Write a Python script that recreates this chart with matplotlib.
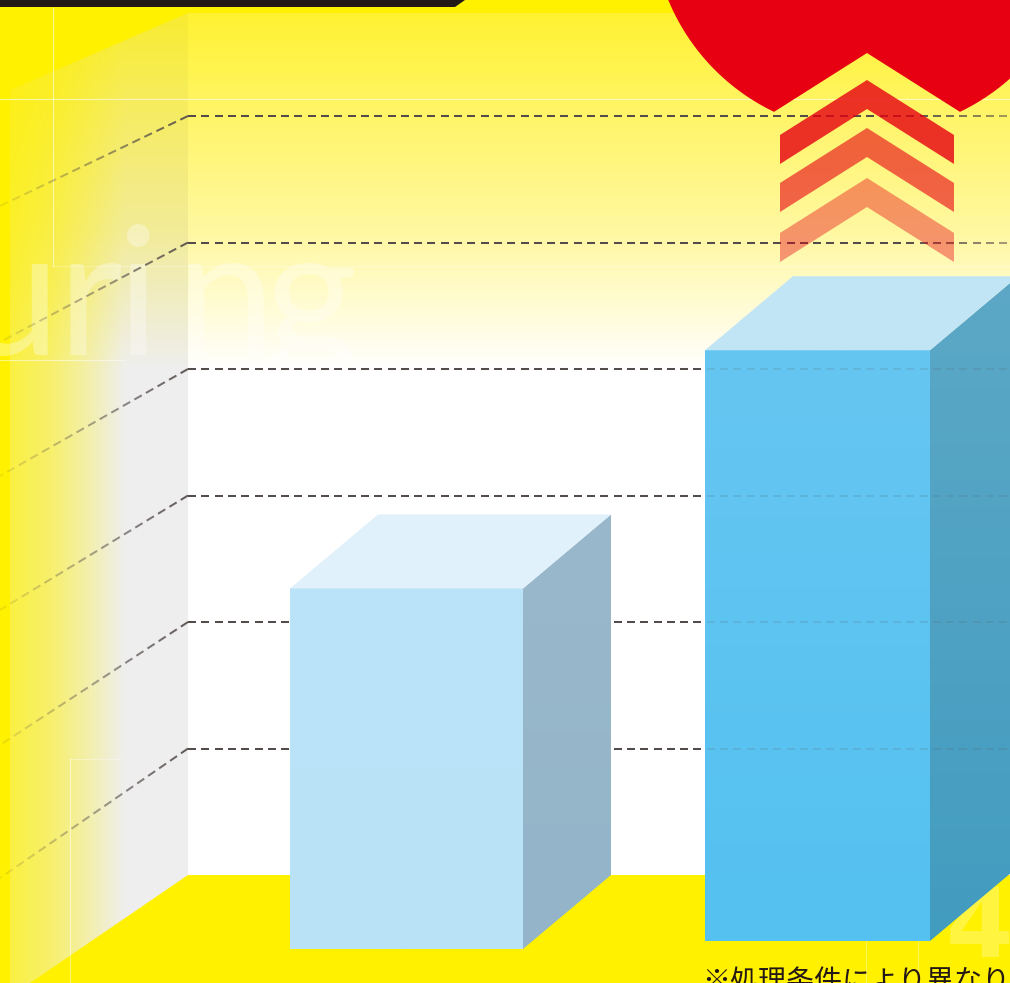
#!/usr/bin/env python3
import numpy as np
import matplotlib
matplotlib.use('Agg')
import matplotlib.pyplot as plt
import matplotlib.colors as mcolors
from matplotlib.collections import LineCollection
from matplotlib.patches import Polygon, Rectangle

# values, in grid steps above the floor
grid_levels = [1, 2, 3, 4, 5, 6]
bar_values = [2.85, 4.67]
note_text = '※処理条件により異なります'
watermark_letters = ['u', 'r', 'i', 'n', 'g']

# picture geometry (pixels)
W, H = 1010, 983
FLOOR_Y = 875
STEP = 126.5
WALL_X = 188
grid_left_y = [878, 745, 610, 476, 342, 206]
bar_left = [290, 705]
bar_right = [523, 930]
bar_base = [949, 941]
DEPTH_X, DEPTH_Y = 88, 74
watermark_x = [-40, 58, 117, 176, 265]

YELLOW = '#FFF100'
DASH = '#544C4A'


def level_y(v):
    return FLOOR_Y - STEP * v


def rgb(c):
    return np.array(mcolors.to_rgb(c))


def gradient_poly(ax, pts, c0, c1, zorder):
    # vertical gradient from c0 to c1 clipped to a polygon
    pts = np.array(pts, dtype=float)
    x0, x1 = pts[:, 0].min(), pts[:, 0].max()
    y0, y1 = pts[:, 1].min(), pts[:, 1].max()
    t = np.linspace(0, 1, 256)[:, None, None]
    img = rgb(c0)[None, None, :] * (1 - t) + rgb(c1)[None, None, :] * t
    im = ax.imshow(img, extent=[x0, x1, y1, y0], aspect='auto', zorder=zorder,
                   interpolation='bilinear')
    clip = Polygon(pts, closed=True, transform=ax.transData)
    im.set_clip_path(clip)


def dash_segments(p0, p1, period=13.3, dash=8.0):
    p0, p1 = np.array(p0, float), np.array(p1, float)
    length = np.hypot(*(p1 - p0))
    u = (p1 - p0) / length
    starts = np.arange(0, length, period)
    return [(p0 + u * s, p0 + u * min(s + dash, length)) for s in starts]


fig = plt.figure(figsize=(W / 100, H / 100), dpi=100, facecolor=YELLOW)
ax = fig.add_axes([0, 0, 1, 1])
ax.set_facecolor(YELLOW)

# back wall, vertical fade to white
ys = np.arange(13, FLOOR_Y + 109)
stop_y = [13, 116, 230, 310, 370, 875]
stop_g = [242, 245, 248, 252, 255, 255]
stop_b = [50, 105, 160, 215, 255, 255]
green = np.interp(ys, stop_y, stop_g)
blue = np.interp(ys, stop_y, stop_b)
back = np.dstack([np.full_like(green, 255.0), green, blue]).reshape(len(ys), 1, 3) / 255
back_im = ax.imshow(back, extent=[WALL_X, W, FLOOR_Y + 108, 13], aspect='auto', zorder=1)
back_im.set_clip_path(Rectangle((WALL_X, 13), W - WALL_X, FLOOR_Y - 13, transform=ax.transData))

# left wall, same fade dimmed and washed into yellow on the left
xs = np.arange(10, WALL_X + 1)
mix = np.interp(xs, [10, 50, 83, 125], [0.28, 0.45, 0.68, 1.0])[None, :, None]
dim = np.interp(ys, [13, 370], [0.975, 0.935])[:, None, None]
wall_col = back[:, :1, :] * dim
wall_img = rgb(YELLOW)[None, None, :] * (1 - mix) + wall_col * mix
wall_im = ax.imshow(wall_img, extent=[10, WALL_X, FLOOR_Y + 108, 13], aspect='auto', zorder=2)
wall_clip = Polygon([(WALL_X, 13), (10, 90), (10, H), (30, H), (WALL_X, FLOOR_Y)],
                    closed=True, transform=ax.transData)
wall_im.set_clip_path(wall_clip)

# watermark text and thin construction lines
for letter, lx in zip(watermark_letters, watermark_x):
    wm = ax.text(lx, 355, letter, family='Lato', weight='normal', fontsize=128,
                 color='white', alpha=0.33, zorder=3, va='baseline', ha='left')
    wm.set_clip_path(Rectangle((0, 0), W, 360, transform=ax.transData))
ax.text(946, 957, '4', family='DejaVu Sans', weight='bold', fontsize=70,
        color='white', alpha=0.25, zorder=3, va='baseline', ha='left')

thin_lines = [
    ((0, 99), (W, 99), 0.6), ((53, 8), (53, 266), 0.55), ((53, 266), (W, 266), 0.25),
    ((0, 360), (125, 360), 0.5), ((70, 759), (70, H), 0.45), ((70, 759), (120, 759), 0.35),
    ((866, 941), (866, H), 0.35), ((918, 941), (918, H), 0.35),
]
for p0, p1, a in thin_lines:
    ax.plot([p0[0], p1[0]], [p0[1], p1[1]], color='white', lw=0.8, alpha=a, zorder=3)

# dashed grid, fading out along the wall
segs, cols = [], []
over_segs = []
base = rgb(DASH)
for lev, left_y in zip(grid_levels, grid_left_y):
    y = level_y(lev)
    for a, b in dash_segments((WALL_X, y), (W, y)):
        fade = 1.0
        if lev >= 5:
            fade = np.interp(a[0], [900, 1010], [1.0, 0.5])
        segs.append((a, b))
        cols.append((*base, fade))
        if a[0] >= bar_left[1] and y > level_y(bar_values[1]):
            over_segs.append((a, b))
    for a, b in dash_segments((WALL_X, y), (0, left_y), dash=8.5):
        segs.append((a, b))
        cols.append((*base, np.interp(a[0], [0, 188], [0.08, 0.9])))
ax.add_collection(LineCollection(segs, colors=cols, linewidths=1.45, capstyle='butt', zorder=4))

# red circle with a notch cut from below
CX, CY, R = 867, -82, 215
a0 = np.arctan2(112 - CY, 960 - CX)
a1 = np.arctan2(112 - CY, 774 - CX)
ang = np.linspace(a0, a1 - 2 * np.pi, 200)
red_pts = np.column_stack([CX + R * np.cos(ang), CY + R * np.sin(ang)])
red_pts = np.vstack([red_pts, [867, 53]])
ax.add_patch(Polygon(red_pts, closed=True, fc='#E60012', ec='none', zorder=5))

# three upward chevrons
chevron_top = [80, 128, 178]
chevron_alpha = [0.8, 0.6, 0.4]
for top, a in zip(chevron_top, chevron_alpha):
    pts = [(780, top + 55), (867, top), (954, top + 55), (954, top + 84), (867, top + 29), (780, top + 84)]
    ax.add_patch(Polygon(pts, closed=True, fc='#E60012', ec='none', alpha=a, zorder=6))

# the two boxes
front_cols = [('#BBE3F9', '#B9E2F7'), ('#66C6F2', '#54C1F0')]
top_cols = ['#E0F1FB', '#C2E5F6']
side_cols = [('#9AB8CB', '#93B4C9'), ('#5CA8C6', '#429CC0')]
for i, val in enumerate(bar_values):
    l, r, b = bar_left[i], bar_right[i], bar_base[i]
    t = b - val * STEP
    front = [(l, t), (r, t), (r, b), (l, b)]
    side = [(r, t), (r + DEPTH_X, t - DEPTH_Y), (r + DEPTH_X, b - DEPTH_Y), (r, b)]
    top = [(l, t), (l + DEPTH_X, t - DEPTH_Y), (r + DEPTH_X, t - DEPTH_Y), (r, t)]
    gradient_poly(ax, front, front_cols[i][0], front_cols[i][1], 7 + i)
    gradient_poly(ax, side, side_cols[i][0], side_cols[i][1], 7 + i)
    ax.add_patch(Polygon(top, closed=True, fc=top_cols[i], ec='none', zorder=7 + i))

# grid shows faintly through the taller box
ax.add_collection(LineCollection(over_segs, colors=[(*base, 0.13)], linewidths=1.45,
                                 capstyle='butt', zorder=8.5))

# black header strip
ax.add_patch(Polygon([(0, 0), (465, 0), (455, 7), (0, 7)], closed=True, fc='#231815', ec='none', zorder=9))

ax.text(702, 990, note_text, family=['Noto Sans CJK JP', 'DejaVu Sans'], fontsize=20.2,
        color='#231815', zorder=9, va='baseline', ha='left')

ax.set_xlim(0, W)
ax.set_ylim(H, 0)
ax.axis('off')

fig.savefig('out.png', dpi=100, facecolor=YELLOW)
